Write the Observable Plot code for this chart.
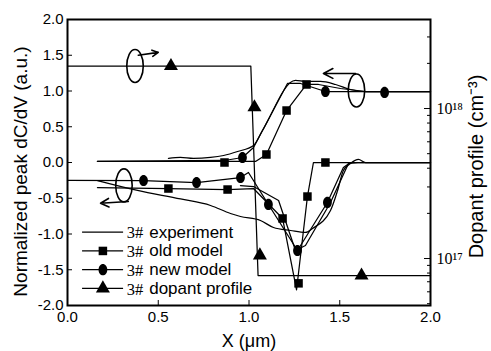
<!DOCTYPE html>
<html><head><meta charset="utf-8">
<script src="https://cdn.jsdelivr.net/npm/d3@7"></script>
<script src="https://cdn.jsdelivr.net/npm/@observablehq/plot@0.6"></script>
<style>body{margin:0;background:#fff}</style>
</head><body><div id="chart"></div>
<script>
// ---------- tick labels ----------
const xTicks = [0, 0.5, 1.0, 1.5, 2.0];
const yTicks = [-2, -1.5, -1, -0.5, 0, 0.5, 1, 1.5, 2];
const dopTickValues = [1e17, 1e18];
const dopTickLabels = ["10\u00b9\u2077", "10\u00b9\u2078"];
const dopMinorValues = [5e16, 6e16, 7e16, 8e16, 9e16, 2e17, 3e17, 4e17, 5e17, 6e17, 7e17, 8e17, 9e17, 2e18, 3e18];

// ---------- experiment ----------
const expUpperX = [0.556, 0.622, 0.694, 0.788, 0.860, 0.937, 1.025, 1.074, 1.256, 1.311, 1.394, 1.477, 1.559, 1.642, 2.0];
const expUpperY = [0.056, 0.070, 0.056, 0.070, 0.098, 0.154, 0.238, 0.448, 1.147, 1.133, 1.133, 1.091, 1.021, 0.993, 0.993];
const expLowerX = [0.165, 0.386, 0.623, 0.788, 0.898, 0.953, 1.063, 1.135, 1.229, 1.311, 1.350, 1.449, 1.488, 1.520, 1.559, 1.603, 1.642, 2.0];
const expLowerY = [-0.252, -0.39, -0.51, -0.601, -0.713, -0.755, -0.811, -0.909, -0.951, -0.979, -0.923, -0.671, -0.392, -0.112, -0.014, 0.042, 0.0, 0.0];

// ---------- old model ----------
const oldUpperX = [0.165, 0.865, 1.036, 1.096, 1.207, 1.317, 1.383, 1.504, 1.642, 2.0];
const oldUpperY = [0.014, 0.014, 0.014, 0.112, 0.727, 1.091, 1.091, 1.035, 0.993, 0.993];
const oldUpperMarkX = [0.865, 1.096, 1.207, 1.317];
const oldUpperMarkY = [0.0, 0.112, 0.727, 1.091];
const oldLowerX = [0.165, 0.556, 0.882, 1.025, 1.185, 1.262, 1.322, 1.355, 1.421, 2.0];
const oldLowerY = [-0.35, -0.364, -0.378, -0.364, -0.783, -1.78, -0.476, 0.0, 0.0, 0.0];
const oldLowerMarkX = [0.556, 0.882, 1.185, 1.273, 1.322, 1.421];
const oldLowerMarkY = [-0.364, -0.378, -0.783, -1.69, -0.476, 0.0];

// ---------- new model ----------
const newUpperX = [0.165, 0.865, 0.964, 1.025, 1.212, 1.284, 1.421, 1.747, 2.0];
const newUpperY = [0.014, 0.028, 0.07, 0.21, 1.105, 1.105, 0.993, 0.993, 0.993];
const newUpperMarkX = [0.964, 1.421, 1.747];
const newUpperMarkY = [0.07, 0.993, 0.98];
const newLowerX = [0.0, 0.419, 0.711, 0.953, 0.997, 1.107, 1.267, 1.432, 1.520, 1.559, 2.0];
const newLowerY = [-0.25, -0.252, -0.28, -0.21, -0.14, -0.587, -1.231, -0.559, -0.07, 0.0, 0.0];
const newLower2X = [0.953, 1.025, 1.163, 1.256, 1.311, 1.449, 1.548, 1.60];
const newLower2Y = [-0.322, -0.336, -0.531, -1.231, -1.161, -0.559, -0.014, 0.0];
const newLowerMarkX = [0.419, 0.711, 0.953, 1.107, 1.267, 1.432];
const newLowerMarkY = [-0.252, -0.28, -0.21, -0.587, -1.231, -0.559];

// ---------- dopant profile (cm^-3, right axis) ----------
const dopX = [0.0, 1.01, 1.05, 2.0];
const dopN = [1.92e18, 1.92e18, 7.7e16, 7.7e16];
const dopMarkX = [0.57, 1.03, 1.06, 1.62];
const dopMarkN = [1.92e18, 1.02e18, 1.05e17, 7.7e16];

// ---------- annotations ----------
const ellX = [0.372, 1.592, 0.311];
const ellY = [1.35, 1.007, -0.32];
const arrX1 = [0.39, 1.587, 0.335];
const arrY1 = [1.50, 1.245, -0.545];
const arrX2 = [0.50, 1.41, 0.182];
const arrY2 = [1.54, 1.245, -0.57];

// ---------- legend ----------
const legendPrefix = "3#";
const legendLabels = ["experiment", "old model", "new model", "dopant profile"];
const legendSymbols = [null, "square", "oval", "triangle"];

// ---------- titles ----------
const yTitle = "Normalized peak dC/dV (a.u.)";
const xTitle = "X (\u03bcm)";
const y2Title = "Dopant profile (cm\u207b\u00b3)";

// twin-axis mapping: right log axis expressed in left-axis units
const L18 = 0.755, DECADE = 2.098;
const toLeft = n => L18 + DECADE * (Math.log10(n) - 18);

const pts = (xs, ys) => xs.map((x, i) => ({x, y: ys[i]}));
const ovalSym = aspect => ({
  draw(ctx, size) {
    const r = Math.sqrt(size / Math.PI), rx = r * aspect, ry = r, k = 0.5523;
    ctx.moveTo(rx, 0);
    ctx.bezierCurveTo(rx, ry * k, rx * k, ry, 0, ry);
    ctx.bezierCurveTo(-rx * k, ry, -rx, ry * k, -rx, 0);
    ctx.bezierCurveTo(-rx, -ry * k, -rx * k, -ry, 0, -ry);
    ctx.bezierCurveTo(rx * k, -ry, rx, -ry * k, rx, 0);
    ctx.closePath();
  }
});
const markerOval = ovalSym(0.78);
const ringOval = ovalSym(0.5);

const LW = 1.25;
const lineOpts = {x: "x", y: "y", stroke: "black", strokeWidth: LW};
const sqOpts = {x: "x", y: "y", symbol: "square", r: 4.8, fill: "black"};
const ovOpts = {x: "x", y: "y", symbol: markerOval, r: 5.6, fill: "black", stroke: "none"};
const trOpts = {x: "x", y: "y", symbol: "triangle", r: 5.2, fill: "black"};

// legend layout (computed in data units)
const legX0 = 0.083, legX1 = 0.309, legXm = 0.195, legXp = 0.327, legXt = 0.45;
const legTop = -0.975, legStep = -0.262;
const legRows = legendLabels.map((label, i) => ({label, sym: legendSymbols[i], y: legTop + i * legStep}));

const SANS = "Liberation Sans, Arial, Helvetica, sans-serif";
const SERIF = "Liberation Serif, Times New Roman, serif";

const dopMap = new Map(dopTickValues.map((v, i) => [toLeft(v), dopTickLabels[i]]));

const chart = Plot.plot({
  width: 491, height: 351,
  marginLeft: 67, marginRight: 61, marginTop: 19, marginBottom: 46,
  x: {domain: [0, 2]},
  y: {domain: [-2, 2]},
  style: {fontFamily: SANS, fontSize: "15px", background: "white", color: "black"},
  marks: [
    // axes
    Plot.axisY(yTicks, {anchor: "left", tickSize: -5, tickPadding: 9, tickFormat: d => d.toFixed(1), label: null, fontSize: 15}),
    Plot.axisX(xTicks, {anchor: "bottom", tickSize: -5, tickPadding: 11, tickFormat: d => d.toFixed(1), label: null, fontSize: 15}),
    Plot.axisY(dopTickValues.map(toLeft), {anchor: "right", tickSize: -7, tickPadding: 13, tickFormat: d => dopMap.get(d), label: null, fontFamily: SERIF, fontSize: 16}),
    Plot.axisY(dopMinorValues.map(toLeft), {anchor: "right", tickSize: -4, tickFormat: () => "", label: null}),
    // titles
    Plot.text([yTitle], {frameAnchor: "left", dx: -47, dy: 9, rotate: -90, textAnchor: "middle", lineAnchor: "middle", fontSize: 19, text: d => d}),
    Plot.text([xTitle], {frameAnchor: "bottom", dy: 36, textAnchor: "middle", lineAnchor: "middle", fontSize: 18, text: d => d}),
    Plot.text([y2Title], {frameAnchor: "right", dx: 46, dy: 4, rotate: -90, textAnchor: "middle", lineAnchor: "middle", fontSize: 20, text: d => d}),
    // dopant profile
    Plot.line(dopX.map((x, i) => ({x, y: toLeft(dopN[i])})), lineOpts),
    Plot.dot(dopMarkX.map((x, i) => ({x, y: toLeft(dopMarkN[i])})), trOpts),
    // experiment
    Plot.line(pts(expUpperX, expUpperY), {...lineOpts, curve: "monotone-x"}),
    Plot.line(pts(expLowerX, expLowerY), {...lineOpts, curve: "monotone-x"}),
    // old model
    Plot.line(pts(oldUpperX, oldUpperY), lineOpts),
    Plot.line(pts(oldLowerX, oldLowerY), lineOpts),
    Plot.dot(pts(oldUpperMarkX, oldUpperMarkY), sqOpts),
    Plot.dot(pts(oldLowerMarkX, oldLowerMarkY), sqOpts),
    // new model
    Plot.line(pts(newUpperX, newUpperY), lineOpts),
    Plot.line(pts(newLowerX, newLowerY), lineOpts),
    Plot.line(pts(newLower2X, newLower2Y), lineOpts),
    Plot.dot(pts(newUpperMarkX, newUpperMarkY), ovOpts),
    Plot.dot(pts(newLowerMarkX, newLowerMarkY), ovOpts),
    // annotations: ellipses and arrows
    Plot.dot(pts(ellX, ellY), {x: "x", y: "y", symbol: ringOval, r: 16.5, fill: "none", stroke: "black", strokeWidth: 1.6}),
    Plot.arrow(arrX1.map((x1, i) => ({x1, y1: arrY1[i], x2: arrX2[i], y2: arrY2[i]})),
      {x1: "x1", y1: "y1", x2: "x2", y2: "y2", stroke: "black", strokeWidth: 1.6, headLength: 10, headAngle: 55}),
    // legend
    Plot.ruleY(legRows, {y: "y", x1: legX0, x2: legX1, stroke: "black", strokeWidth: LW}),
    Plot.dot(legRows.filter(d => d.sym === "square"), {x: () => legXm, y: "y", symbol: "square", r: 4.8, fill: "black"}),
    Plot.dot(legRows.filter(d => d.sym === "oval"), {x: () => legXm, y: "y", symbol: markerOval, r: 5.6, fill: "black", stroke: "none"}),
    Plot.dot(legRows.filter(d => d.sym === "triangle"), {x: () => legXm, y: "y", symbol: "triangle", r: 5.2, fill: "black"}),
    Plot.text(legRows, {x: () => legXp, y: "y", text: () => legendPrefix, textAnchor: "start", fontFamily: SERIF, fontSize: 16.5, dy: 1}),
    Plot.text(legRows, {x: () => legXt, y: "y", text: "label", textAnchor: "start", fontSize: 17}),
    Plot.frame({stroke: "black", strokeWidth: 2})
  ]
});
document.getElementById("chart").appendChild(chart);
</script>
</body></html>
